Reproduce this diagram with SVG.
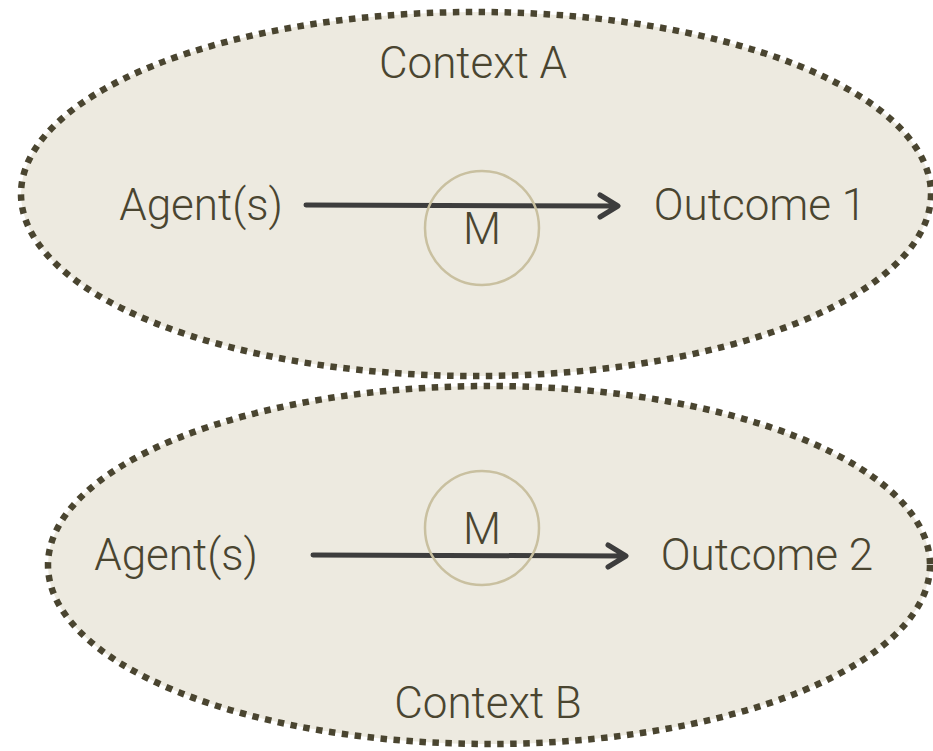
<svg xmlns="http://www.w3.org/2000/svg" width="933" height="751" viewBox="0 0 933 751">
<style>
.ctx{fill:#edeae0;stroke:#4a4530;stroke-width:6.5;stroke-dasharray:6.5 6.5}
.m{fill:none;stroke:#c9c0a0;stroke-width:2.5}
.t{font-family:Roboto,"Liberation Sans",Arial,sans-serif;font-weight:300;font-size:44px;fill:#4a4530}
.arr{stroke:#3d3d3d;stroke-width:5;fill:none;stroke-linecap:round;stroke-linejoin:round}
</style>
<rect width="933" height="751" fill="#ffffff"/>
<g id="contextA">
<ellipse class="ctx" cx="476" cy="194" rx="455" ry="182"/>
<text class="t" x="473" y="78" text-anchor="middle">Context A</text>
</g>
<g id="contextB">
<ellipse class="ctx" cx="489" cy="565" rx="441" ry="179"/>
<text class="t" x="488" y="718" text-anchor="middle">Context B</text>
</g>
<g id="agentA"><text class="t" x="201" y="220" text-anchor="middle">Agent(s)</text></g>
<g id="outcome1"><text class="t" x="760" y="220" text-anchor="middle">Outcome 1</text></g>
<g id="agentB"><text class="t" x="176" y="570" text-anchor="middle">Agent(s)</text></g>
<g id="outcome2"><text class="t" x="767" y="570" text-anchor="middle">Outcome 2</text></g>
<g id="connectors">
<path class="arr" d="M306 205 L618 206 M600 195 L618 206 L600 217"/>
<path class="arr" d="M313 555 L626 556 M608 545 L626 556 L608 567"/>
</g>
<g id="mechA">
<circle class="m" cx="482" cy="228" r="57"/>
<text class="t" x="482" y="244" text-anchor="middle">M</text>
</g>
<g id="mechB">
<circle class="m" cx="482" cy="528" r="57"/>
<text class="t" x="482" y="544" text-anchor="middle">M</text>
</g>
</svg>
